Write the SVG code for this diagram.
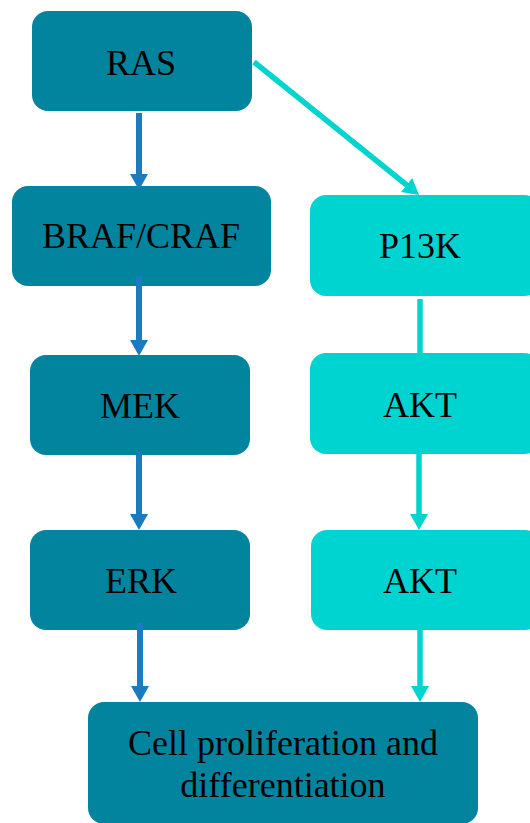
<svg xmlns="http://www.w3.org/2000/svg" width="530" height="823" viewBox="0 0 530 823">
<style>
.dark{fill:#03849e}
.cyan{fill:#00d4d1}
text{font-family:"Liberation Serif","Times New Roman",serif;font-size:36px;fill:#000;text-anchor:middle}
.lb{stroke:#1a7bc1;stroke-width:6;fill:none}
.lc{stroke:#00d4d1;stroke-width:5.5;fill:none}
</style>
<defs>
<marker id="hb" markerUnits="userSpaceOnUse" markerWidth="16" markerHeight="18" refX="4" refY="9" orient="auto" viewBox="0 0 16 18"><path d="M0,0 L16,9 L0,18 z" fill="#1a7bc1"/></marker>
<marker id="hc" markerUnits="userSpaceOnUse" markerWidth="16" markerHeight="18" refX="4" refY="9" orient="auto" viewBox="0 0 16 18"><path d="M0,0 L16,9 L0,18 z" fill="#00d4d1"/></marker>
</defs>
<g id="ras"><rect class="dark" x="32" y="11" width="220" height="100" rx="16"/><text x="141" y="75">RAS</text></g>
<g id="braf"><rect class="dark" x="12" y="186" width="259" height="100" rx="16"/><text x="141" y="248">BRAF/CRAF</text></g>
<g id="p13k"><rect class="cyan" x="310" y="195" width="230" height="101" rx="16"/><text x="420" y="258">P13K</text></g>
<g id="mek"><rect class="dark" x="30" y="355" width="220" height="100" rx="16"/><text x="140" y="418">MEK</text></g>
<g id="akt1"><rect class="cyan" x="310" y="353" width="230" height="101" rx="16"/><text x="420" y="417">AKT</text></g>
<g id="erk"><rect class="dark" x="30" y="530" width="220" height="100" rx="16"/><text x="141" y="593">ERK</text></g>
<g id="akt2"><rect class="cyan" x="311" y="530" width="230" height="100" rx="16"/><text x="420" y="593">AKT</text></g>
<g id="cell"><rect class="dark" x="88" y="702" width="390" height="122" rx="16"/><text x="283" y="755">Cell proliferation and</text><text x="283" y="797">differentiation</text></g>
<g id="connectors">
<line class="lb" x1="139" y1="113" x2="139" y2="178" marker-end="url(#hb)"/>
<line class="lc" x1="254" y1="62" x2="409.7" y2="187.5" marker-end="url(#hc)"/>
<line class="lb" x1="139" y1="276" x2="139" y2="344" marker-end="url(#hb)"/>
<line class="lc" x1="420" y1="299" x2="420" y2="354"/>
<line class="lb" x1="139" y1="452" x2="139" y2="518" marker-end="url(#hb)"/>
<line class="lc" x1="419" y1="454" x2="419" y2="518" marker-end="url(#hc)"/>
<line class="lb" x1="140" y1="623" x2="140" y2="690" marker-end="url(#hb)"/>
<line class="lc" x1="420" y1="630" x2="420" y2="690" marker-end="url(#hc)"/>
</g>
</svg>
